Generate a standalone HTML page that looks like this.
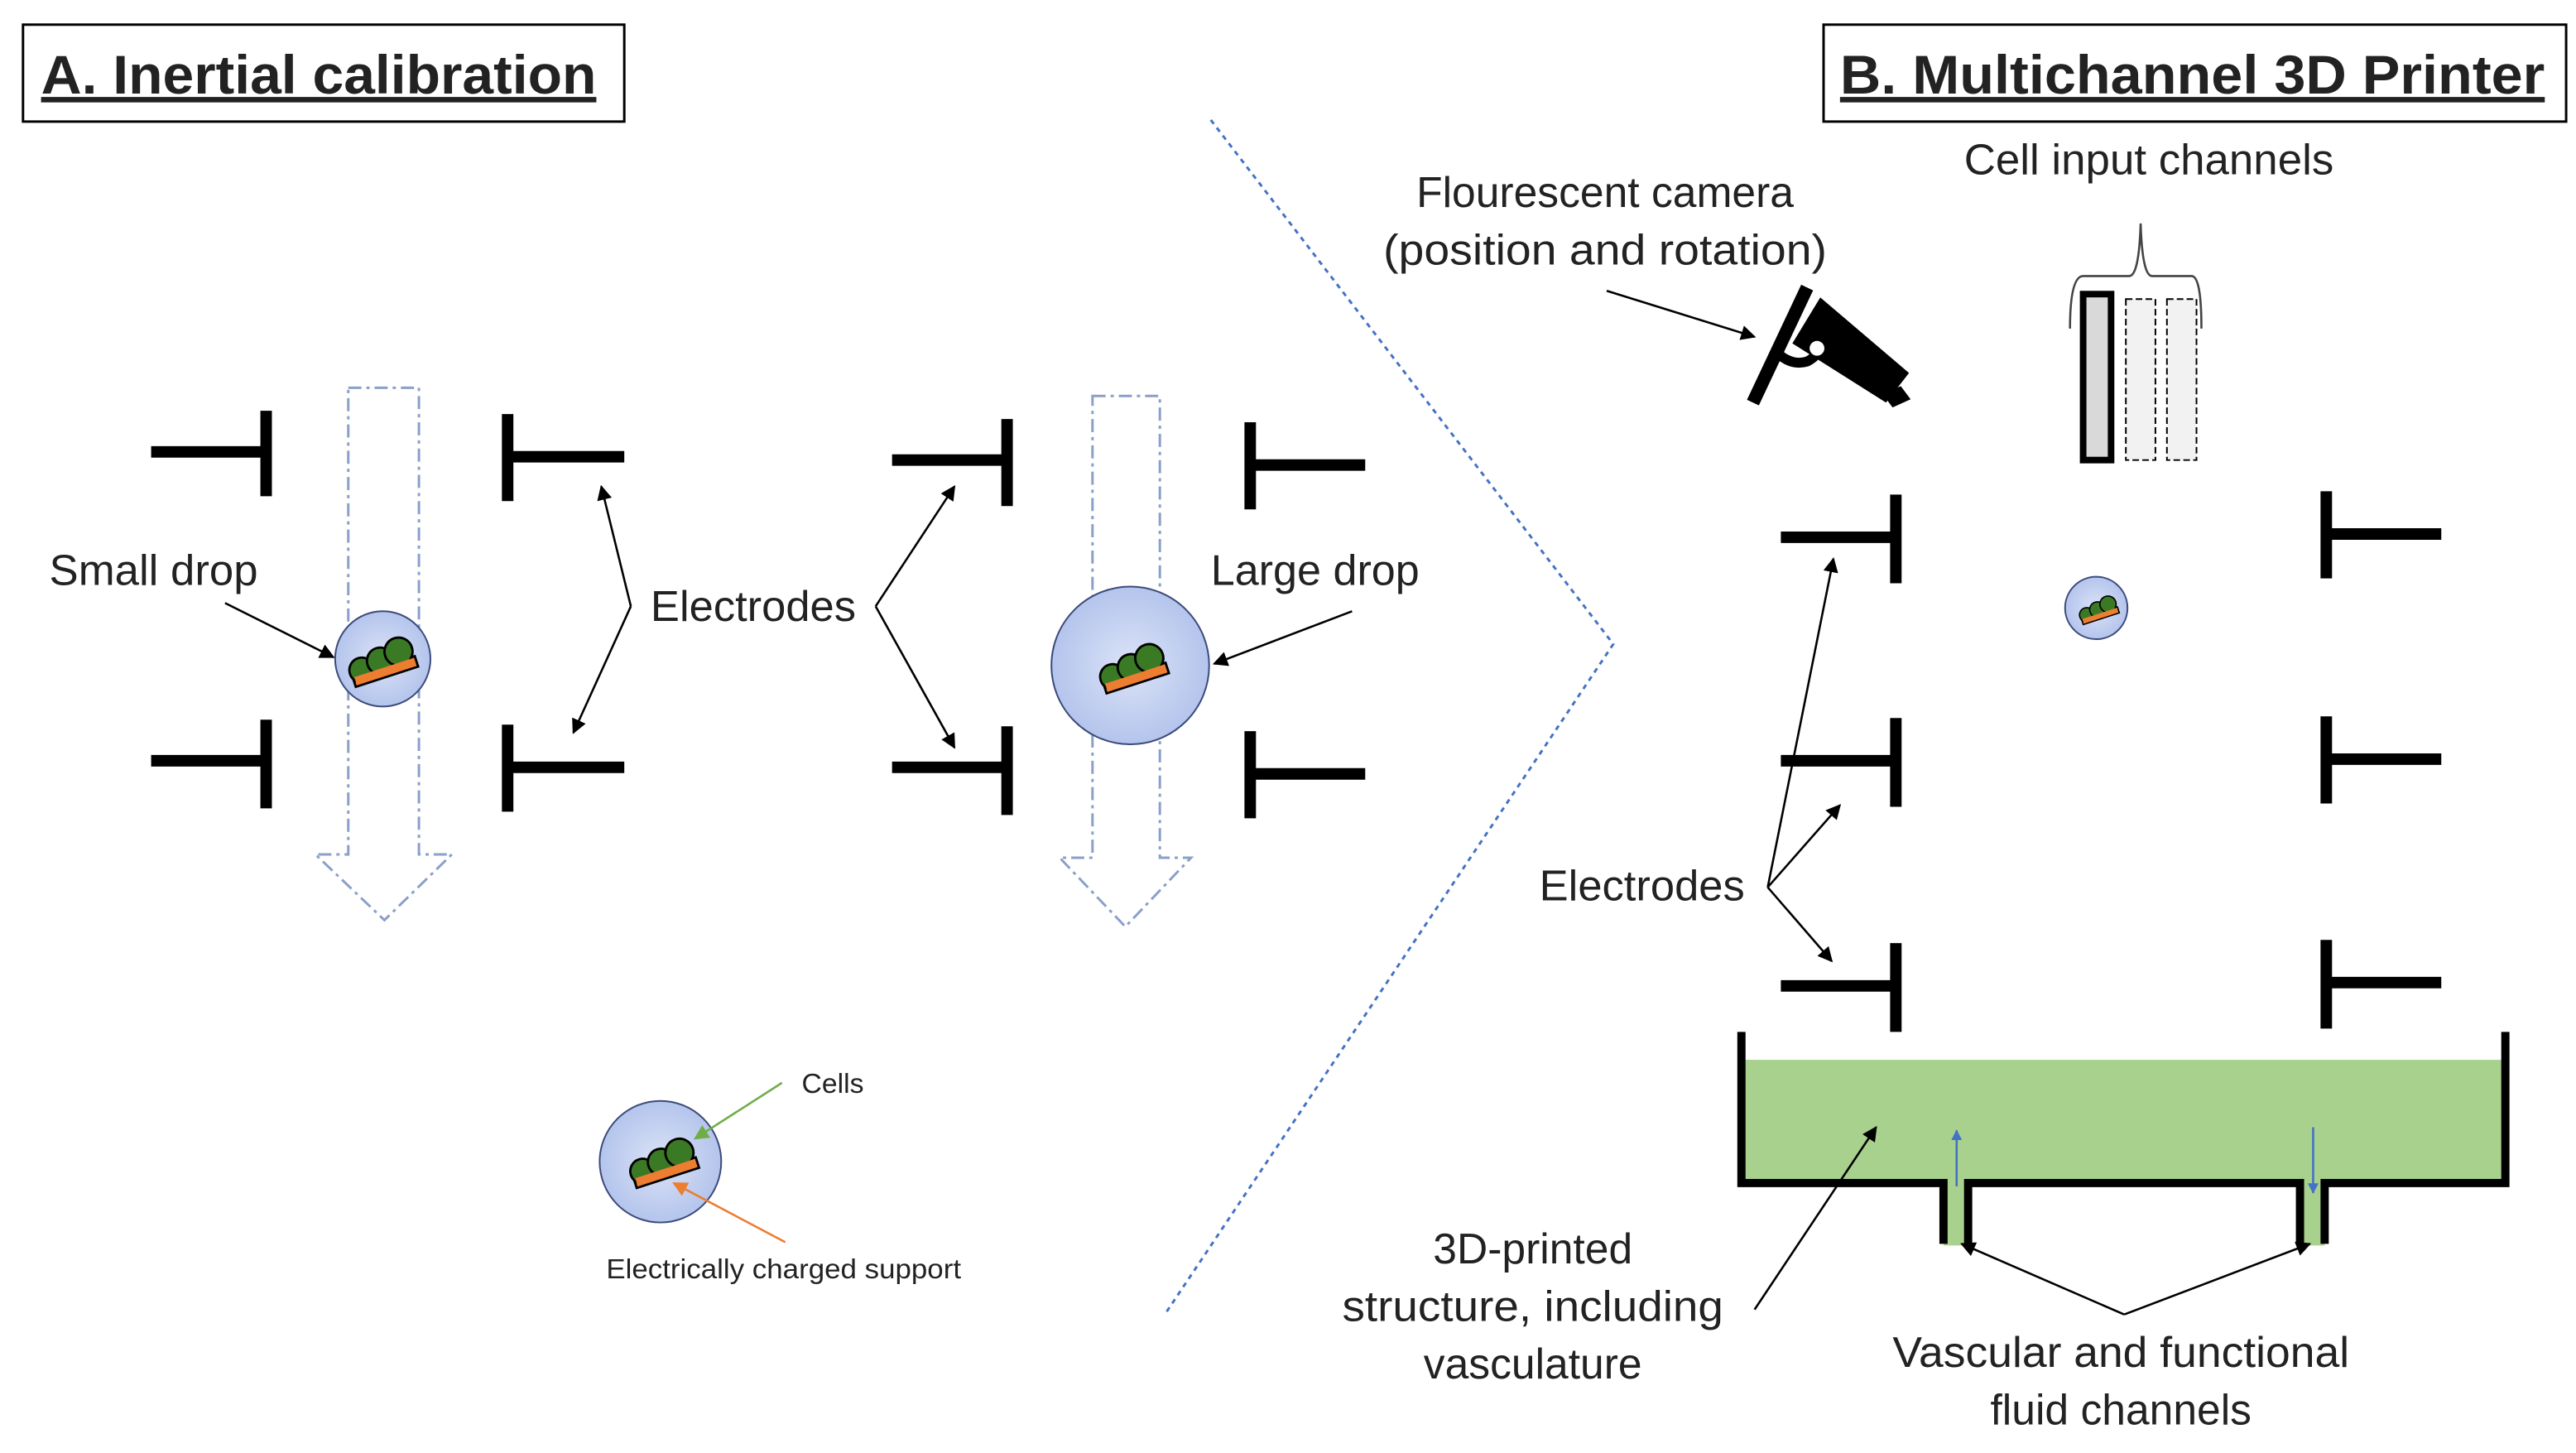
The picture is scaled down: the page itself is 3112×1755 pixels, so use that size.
<!DOCTYPE html>
<html><head><meta charset="utf-8"><style>
html,body{margin:0;padding:0;background:#fff;}
svg{display:block;}
text{font-family:"Liberation Sans",sans-serif;fill:#222;}
</style></head><body>
<svg width="3112" height="1755" viewBox="0 0 1568 884.3" preserveAspectRatio="none" xmlns="http://www.w3.org/2000/svg">
<defs>
<marker id="ah" viewBox="0 0 10 10" refX="9" refY="5" markerWidth="7" markerHeight="7" orient="auto"><path d="M0,0 L10,5 L0,10 z" fill="#000"/></marker>
<marker id="ahg" viewBox="0 0 10 10" refX="9" refY="5" markerWidth="7" markerHeight="7" orient="auto"><path d="M0,0 L10,5 L0,10 z" fill="#70ad47"/></marker>
<marker id="aho" viewBox="0 0 10 10" refX="9" refY="5" markerWidth="7" markerHeight="7" orient="auto"><path d="M0,0 L10,5 L0,10 z" fill="#ed7d31"/></marker>
<marker id="ahb" viewBox="0 0 10 10" refX="9" refY="5" markerWidth="5" markerHeight="5" orient="auto"><path d="M0,0 L10,5 L0,10 z" fill="#4472c4"/></marker>
<radialGradient id="drop" cx="0.5" cy="0.5" r="0.5"><stop offset="0" stop-color="#dbe3f7"/><stop offset="1" stop-color="#b4c4ec"/></radialGradient>
<g id="cells">
<rect x="-20" y="2" width="42" height="7" fill="#ed7d31" stroke="#000" stroke-width="1.5"/>
<circle cx="-13" cy="0" r="8" fill="#3a7a25" stroke="#000" stroke-width="1.5"/>
<circle cx="0" cy="-2" r="8.5" fill="#3a7a25" stroke="#000" stroke-width="1.5"/>
<circle cx="13" cy="-4" r="9" fill="#3a7a25" stroke="#000" stroke-width="1.5"/>
<rect x="-19" y="2.8" width="40" height="5.5" fill="#ed7d31"/>
</g>
</defs>

<!-- Titles -->
<rect x="14" y="15" width="366" height="59" fill="#fff" stroke="#000" stroke-width="1.5"/>
<text x="25" y="57" font-size="33" font-weight="bold" fill="#000" text-decoration="underline" textLength="338" lengthAdjust="spacingAndGlyphs">A. Inertial calibration</text>
<rect x="1110" y="15" width="452" height="59" fill="#fff" stroke="#000" stroke-width="1.5"/>
<text x="1120" y="57" font-size="33" font-weight="bold" fill="#000" text-decoration="underline" textLength="429" lengthAdjust="spacingAndGlyphs">B. Multichannel 3D Printer</text>

<!-- divider -->
<polyline points="737,73 982,392 709,800" fill="none" stroke="#4472c4" stroke-width="1.5" stroke-dasharray="3,3"/>

<!-- dashed arrows -->
<path d="M212,236 L255,236 L255,520 L275,520 L234,560 L192,520 L212,520 Z" fill="none" stroke="#8aa0c8" stroke-width="1.5" stroke-dasharray="8,3,2,3"/>
<path d="M665,241 L706,241 L706,522 L725,522 L685,564 L645,522 L665,522 Z" fill="none" stroke="#8aa0c8" stroke-width="1.5" stroke-dasharray="8,3,2,3"/>

<!-- electrodes A -->
<g stroke="#000" stroke-width="7" fill="none">
<path d="M92,275 H162 M162,250 V302"/>
<path d="M309,252 V305 M309,278 H380"/>
<path d="M92,463 H162 M162,438 V492"/>
<path d="M309,441 V494 M309,467 H380"/>
<path d="M543,280 H613 M613,255 V308"/>
<path d="M761,257 V310 M761,283 H831"/>
<path d="M543,467 H613 M613,442 V496"/>
<path d="M761,445 V498 M761,471 H831"/>
</g>

<!-- drops -->
<circle cx="233" cy="401" r="29" fill="url(#drop)" stroke="#3b4a7a" stroke-width="1"/>
<g transform="translate(232,404) rotate(-18) scale(0.95)"><use href="#cells"/></g>
<circle cx="688" cy="405" r="48" fill="url(#drop)" stroke="#3b4a7a" stroke-width="1"/>
<g transform="translate(689,408) rotate(-18) scale(0.95)"><use href="#cells"/></g>
<circle cx="402" cy="707" r="37" fill="url(#drop)" stroke="#3b4a7a" stroke-width="1"/>
<g transform="translate(403,709) rotate(-18) scale(0.95)"><use href="#cells"/></g>

<!-- A labels -->
<text x="30" y="356" font-size="26" textLength="127" lengthAdjust="spacingAndGlyphs">Small drop</text>
<line x1="137" y1="367" x2="203" y2="400" stroke="#000" stroke-width="1.3" marker-end="url(#ah)"/>
<text x="396" y="378" font-size="26" textLength="125" lengthAdjust="spacingAndGlyphs">Electrodes</text>
<g stroke="#000" stroke-width="1.3" fill="none">
<line x1="384" y1="369" x2="366" y2="296" marker-end="url(#ah)"/>
<line x1="384" y1="369" x2="349" y2="446" marker-end="url(#ah)"/>
<line x1="533" y1="369" x2="581" y2="296" marker-end="url(#ah)"/>
<line x1="533" y1="369" x2="581" y2="455" marker-end="url(#ah)"/>
<line x1="823" y1="372" x2="739" y2="404" marker-end="url(#ah)"/>
</g>
<text x="737" y="356" font-size="26" textLength="127" lengthAdjust="spacingAndGlyphs">Large drop</text>
<text x="488" y="665" font-size="17">Cells</text>
<line x1="476" y1="659" x2="423" y2="693" stroke="#70ad47" stroke-width="1.3" marker-end="url(#ahg)"/>
<text x="369" y="778" font-size="17" textLength="216" lengthAdjust="spacingAndGlyphs">Electrically charged support</text>
<line x1="478" y1="756" x2="410" y2="720" stroke="#ed7d31" stroke-width="1.3" marker-end="url(#aho)"/>

<!-- B -->
<text x="977" y="126" font-size="26" text-anchor="middle">Flourescent camera</text>
<text x="977" y="161" font-size="26" text-anchor="middle" textLength="270" lengthAdjust="spacingAndGlyphs">(position and rotation)</text>
<line x1="978" y1="177" x2="1068" y2="205" stroke="#000" stroke-width="1.3" marker-end="url(#ah)"/>
<!-- camera icon -->
<line x1="1100" y1="175" x2="1067" y2="245" stroke="#000" stroke-width="8"/>
<path d="M1081,214 Q1090,223 1100,220 Q1108,216 1110,207" fill="none" stroke="#000" stroke-width="6"/>
<polygon points="1091,209 1108,181 1162,227 1148,245" fill="#000"/>
<circle cx="1106" cy="212" r="4.5" fill="#fff"/>
<polygon points="1146,240 1157,235 1163,243 1152,248" fill="#000"/>

<text x="1308" y="106" font-size="26" text-anchor="middle" textLength="225" lengthAdjust="spacingAndGlyphs">Cell input channels</text>
<path d="M1260,200 Q1260,168 1268,168 L1296,168 Q1302,168 1303,136 Q1304,168 1310,168 L1334,168 Q1340,168 1340,200" fill="none" stroke="#444" stroke-width="1.3"/>
<rect x="1268" y="179" width="17" height="101" fill="#d9d9d9" stroke="#000" stroke-width="4"/>
<rect x="1294" y="182" width="18" height="98" fill="#f2f2f2" stroke="#000" stroke-width="1" stroke-dasharray="4,2"/>
<rect x="1319" y="182" width="18" height="98" fill="#f2f2f2" stroke="#000" stroke-width="1" stroke-dasharray="4,2"/>

<g stroke="#000" stroke-width="7" fill="none">
<path d="M1084,327 H1154 M1154,301 V355"/>
<path d="M1084,463 H1154 M1154,437 V491"/>
<path d="M1084,600 H1154 M1154,574 V628"/>
<path d="M1416,299 V352 M1416,325 H1486"/>
<path d="M1416,436 V489 M1416,462 H1486"/>
<path d="M1416,572 V626 M1416,598 H1486"/>
</g>
<circle cx="1276" cy="370" r="19" fill="url(#drop)" stroke="#3b4a7a" stroke-width="1"/>
<g transform="translate(1277,372) rotate(-18) scale(0.55)"><use href="#cells"/></g>

<text x="937" y="548" font-size="26" textLength="125" lengthAdjust="spacingAndGlyphs">Electrodes</text>
<g stroke="#000" stroke-width="1.3" fill="none">
<line x1="1076" y1="540" x2="1116" y2="340" marker-end="url(#ah)"/>
<line x1="1076" y1="540" x2="1120" y2="490" marker-end="url(#ah)"/>
<line x1="1076" y1="540" x2="1115" y2="585" marker-end="url(#ah)"/>
</g>

<!-- tank -->
<rect x="1062" y="645" width="462" height="75" fill="#a9d18e"/>
<rect x="1183" y="718" width="15" height="40" fill="#a9d18e"/>
<rect x="1400" y="718" width="15" height="40" fill="#a9d18e"/>
<path d="M1060,628 V720 H1183 V757 M1198,757 V720 H1400 V757 M1415,757 V720 H1525 V628" fill="none" stroke="#000" stroke-width="5"/>
<line x1="1191" y1="722" x2="1191" y2="688" stroke="#4472c4" stroke-width="1.3" marker-end="url(#ahb)"/>
<line x1="1408" y1="686" x2="1408" y2="726" stroke="#4472c4" stroke-width="1.3" marker-end="url(#ahb)"/>

<text x="933" y="769" font-size="26" text-anchor="middle">3D-printed</text>
<text x="933" y="804" font-size="26" text-anchor="middle" textLength="232" lengthAdjust="spacingAndGlyphs">structure, including</text>
<text x="933" y="839" font-size="26" text-anchor="middle">vasculature</text>
<line x1="1068" y1="797" x2="1142" y2="686" stroke="#000" stroke-width="1.3" marker-end="url(#ah)"/>
<text x="1291" y="832" font-size="26" text-anchor="middle" textLength="278" lengthAdjust="spacingAndGlyphs">Vascular and functional</text>
<text x="1291" y="867" font-size="26" text-anchor="middle">fluid channels</text>
<line x1="1293" y1="800" x2="1194" y2="757" stroke="#000" stroke-width="1.3" marker-end="url(#ah)"/>
<line x1="1293" y1="800" x2="1406" y2="757" stroke="#000" stroke-width="1.3" marker-end="url(#ah)"/>
</svg>
</body></html>
